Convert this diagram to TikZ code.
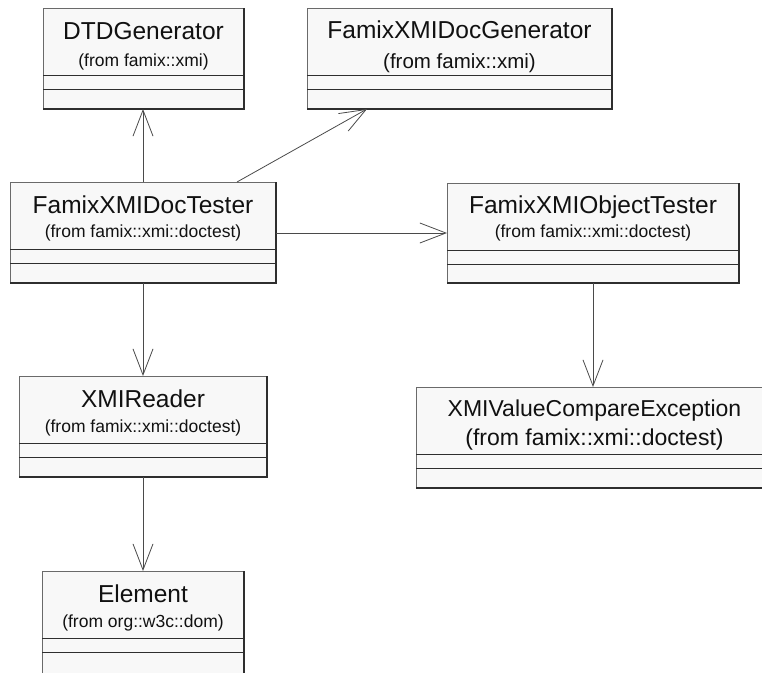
\documentclass[tikz,border=0pt]{standalone}
\usepackage{fontspec}
\setmainfont{Liberation Sans}
\usetikzlibrary{arrows.meta,calc}

\definecolor{boxfill}{HTML}{F8F8F8}
\definecolor{frame}{HTML}{6A6A6A}
\definecolor{shade}{HTML}{2E2E2E}
\definecolor{wire}{HTML}{4A4A4A}
\definecolor{ink}{HTML}{111111}

\tikzset{
  cls/.style={draw=frame, fill=boxfill, line width=0.8pt, inner sep=0pt, outer sep=0pt},
  ctitle/.style={font=\fontsize{24.5}{26}\selectfont, text=ink, inner sep=0pt, anchor=base},
  csub/.style={font=\fontsize{17.5}{19}\selectfont, text=ink, inner sep=0pt, anchor=base},
  compart/.style={draw=shade, line width=0.8pt},
  shadeline/.style={draw=shade, line width=1.8pt},
  dep/.style={draw=wire, line width=0.8pt, line join=miter,
              -{Straight Barb[length=26pt,width=20pt]}}
}

% class frame with two empty compartments: name, left, top, width, height
\newcommand{\classframe}[5]{%
  \node[cls, minimum width=#4pt, minimum height=#5pt, anchor=north west] (#1) at (#2,#3) {};
  \draw[compart] ($(#1.north west)+(0,-67)$) -- ($(#1.north east)+(0,-67)$);
  \draw[compart] ($(#1.north west)+(0,-81)$) -- ($(#1.north east)+(0,-81)$);
  \draw[shadeline] (#1.north east) -- (#1.south east) -- (#1.south west);
}

\begin{document}
\begin{tikzpicture}[x=1pt,y=1pt]
\useasboundingbox (0,0) rectangle (762,-672);
\clip (0,0) rectangle (762,-672);

% classes
\classframe{dtd}{43}{-8}{201}{101}
\node[ctitle] (dtd-t) at ($(dtd.north)+(0,-31)$) {DTDGenerator};
\node[csub] (dtd-s) at ($(dtd.north)+(0,-58)$) {(from famix::xmi)};

\classframe{docgen}{307}{-8}{305}{101}
\node[ctitle] (docgen-t) at ($(docgen.north)+(0,-30)$) {FamixXMIDocGenerator};
\node[csub, font=\fontsize{20.5}{22}\selectfont] (docgen-s) at ($(docgen.north)+(0,-60)$) {(from famix::xmi)};

\classframe{doctester}{10}{-182}{266}{101}
\node[ctitle] (doctester-t) at ($(doctester.north)+(0,-31)$) {FamixXMIDocTester};
\node[csub] (doctester-s) at ($(doctester.north)+(0,-55)$) {(from famix::xmi::doctest)};

\classframe{objtester}{447}{-183}{292}{100}
\node[ctitle] (objtester-t) at ($(objtester.north)+(0,-30)$) {FamixXMIObjectTester};
\node[csub] (objtester-s) at ($(objtester.north)+(0,-54)$) {(from famix::xmi::doctest)};

\classframe{xvc}{416}{-387}{357}{101}
\node[ctitle, font=\fontsize{23}{25}\selectfont] (xvc-t) at ($(xvc.north)+(0,-29)$) {XMIValueCompareException};
\node[csub, font=\fontsize{23}{24}\selectfont] (xvc-s) at ($(xvc.north)+(0,-58)$) {(from famix::xmi::doctest)};

\classframe{reader}{19}{-376}{248}{101}
\node[ctitle] (reader-t) at ($(reader.north)+(0,-31)$) {XMIReader};
\node[csub] (reader-s) at ($(reader.north)+(0,-56)$) {(from famix::xmi::doctest)};

\classframe{element}{42}{-571}{202}{104}
\node[ctitle] (element-t) at ($(element.north)+(0,-31)$) {Element};
\node[csub] (element-s) at ($(element.north)+(0,-56)$) {(from org::w3c::dom)};

% dependencies
\draw[dep] (doctester.north) -- (doctester.north |- dtd.south);
\draw[dep] ($(doctester.north west)+(227,0)$) -- ($(docgen.south west)+(60,0)$);
\coordinate (hstart) at ($(doctester.north east)+(0,-51)$);
\draw[dep] (hstart) -- (hstart -| objtester.west);
\draw[dep] (objtester.south) -- (objtester.south |- xvc.north);
\draw[dep] (doctester.south) -- (doctester.south |- reader.north);
\draw[dep] (reader.south) -- (reader.south |- element.north);
\end{tikzpicture}
\end{document}
